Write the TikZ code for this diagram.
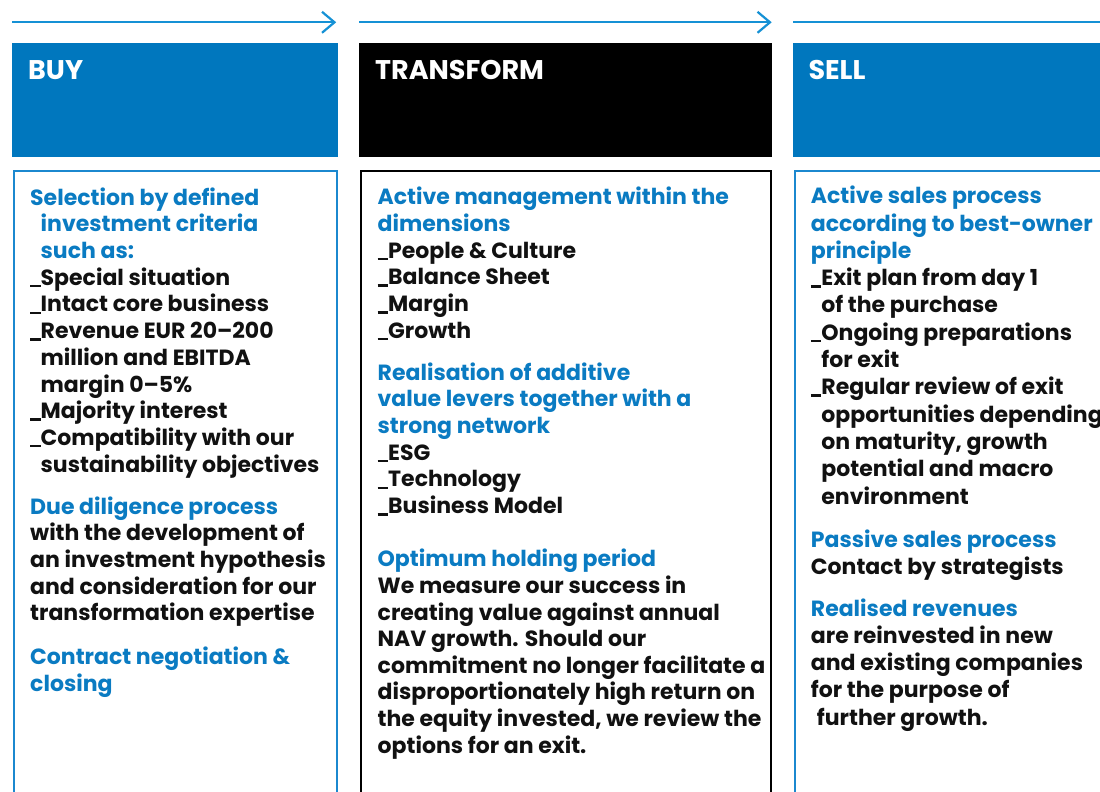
\documentclass[tikz,border=0pt]{standalone}
\usepackage{fontspec}
\setmainfont{Poppins}
\definecolor{brandblue}{HTML}{0077BE}
\definecolor{accent}{HTML}{0A7BC2}
\definecolor{flowblue}{HTML}{1591D5}
\definecolor{framblue}{HTML}{1B88CF}
\definecolor{ink}{HTML}{111111}
% list dash and the matching hanging indent
\newcommand\bul{\rule[-2pt]{10.5pt}{2.4pt}}
\newcommand\ind{\hspace*{10.5pt}}

\begin{document}
\begin{tikzpicture}[x=1pt,y=-1pt,
  flow/.style={draw=flowblue, line width=2.2pt},
  chev/.style={draw=flowblue, line width=2.2pt, line join=miter},
  headbox/.style={fill=#1, draw=none, inner sep=0, anchor=north west,
    minimum height=113.7pt},
  headtxt/.style={text=white, font=\fontsize{27}{31}\selectfont\bfseries,
    anchor=base west, inner sep=0},
  frame/.style={draw=#1, line width=2pt},
  bodytxt/.style={text=ink, font=\fontsize{22}{#1}\selectfont\bfseries,
    align=left, anchor=north west, inner sep=0}
]
\useasboundingbox (0,0) rectangle (1100,792);
\fill[white] (0,0) rectangle (1100,792);
\begin{scope}
\clip (0,0) rectangle (1100,792);

% process flow arrows
\coordinate (f1s) at (12,22.3);  \coordinate (f1e) at (334.5,22.3);
\coordinate (f2s) at (359,22.3); \coordinate (f2e) at (770,22.3);
\coordinate (f3s) at (793,22.3); \coordinate (f3e) at (1105,22.3);
\draw[flow] (f1s) -- (f1e);
\draw[chev] (f1e) ++(-12.5,-10.5) -- (f1e) -- ++(-12.5,10.5);
\draw[flow] (f2s) -- (f2e);
\draw[chev] (f2e) ++(-12.5,-10.5) -- (f2e) -- ++(-12.5,10.5);
\draw[flow] (f3s) -- (f3e);

% phase headers
\node[headbox=brandblue, minimum width=326pt] (buy) at (12,43) {};
\node[headbox=black, minimum width=413pt] (transform) at (359,43) {};
\node[headbox=brandblue, minimum width=320pt] (sell) at (793,43) {};
\node[headtxt] (buylbl) at (28,79) {BUY};
\node[headtxt] (translbl) at (375,79) {TRANSFORM};
\node[headtxt] (selllbl) at (808.3,79) {SELL};

% open frames below the headers
\draw[frame=framblue] (13.5,800) -- (13.5,171) -- (336.5,171) -- (336.5,800);
\draw[frame=black] (360.5,800) -- (360.5,171) -- (770.5,171) -- (770.5,800);
\draw[frame=framblue] (794.5,800) -- (794.5,171) -- (1110,171);

% BUY column
\node[bodytxt=26.7pt] (buy1) at (30,186.3) {%
\strut\textcolor{accent}{Selection by defined}\\
\textcolor{accent}{\ind investment criteria}\\
\textcolor{accent}{\ind such as:}\\
\bul Special situation\\
\bul Intact core business\\
\bul Revenue EUR 20–200\\
\ind million and EBITDA\\
\ind margin 0–5\%\\
\bul Majority interest\\
\bul Compatibility with our\\
\ind sustainability objectives};
\node[bodytxt=26.7pt] (buy2) at (30,495.3) {%
\strut\textcolor{accent}{Due diligence process}\\
with the development of\\
an investment hypothesis\\
and consideration for our\\
transformation expertise};
\node[bodytxt=26.7pt] (buy3) at (30,645.6) {%
\strut\textcolor{accent}{Contract negotiation \&}\\
\textcolor{accent}{closing}};

% TRANSFORM column
\node[bodytxt=26.75pt] (tr1) at (377.5,185.6) {%
\strut\textcolor{accent}{Active management within the}\\
\textcolor{accent}{dimensions}\\
\bul People \& Culture\\
\bul Balance Sheet\\
\bul Margin\\
\bul Growth};
\node[bodytxt=26.7pt] (tr2) at (377.5,361.3) {%
\strut\textcolor{accent}{Realisation of additive}\\
\textcolor{accent}{value levers together with a}\\
\textcolor{accent}{strong network}\\
\bul ESG\\
\bul Technology\\
\bul Business Model};
\node[bodytxt=26.6pt] (tr3) at (377.5,548.1) {%
\strut\textcolor{accent}{Optimum holding period}\\
We measure our success in\\
creating value against annual\\
NAV growth. Should our\\
commitment no longer facilitate a\\
disproportionately high return on\\
the equity invested, we review the\\
options for an exit.};

% SELL column
\node[bodytxt=27.3pt] (sell1) at (810.7,184.4) {%
\strut\textcolor{accent}{Active sales process}\\
\textcolor{accent}{according to best-owner}\\
\textcolor{accent}{principle}\\
\bul Exit plan from day 1\\
\ind of the purchase\\
\bul Ongoing preparations\\
\ind for exit\\
\bul Regular review of exit\\
\ind opportunities depending\\
\ind on maturity, growth\\
\ind potential and macro\\
\ind environment};
\node[bodytxt=26.7pt] (sell2) at (810.7,528.6) {%
\strut\textcolor{accent}{Passive sales process}\\
Contact by strategists};
\node[bodytxt=27.25pt] (sell3) at (810.7,596.9) {%
\strut\textcolor{accent}{Realised revenues}\\
are reinvested in new\\
and existing companies\\
for the purpose of\\
\hspace*{6pt}further growth.};
\end{scope}
\end{tikzpicture}
\end{document}
